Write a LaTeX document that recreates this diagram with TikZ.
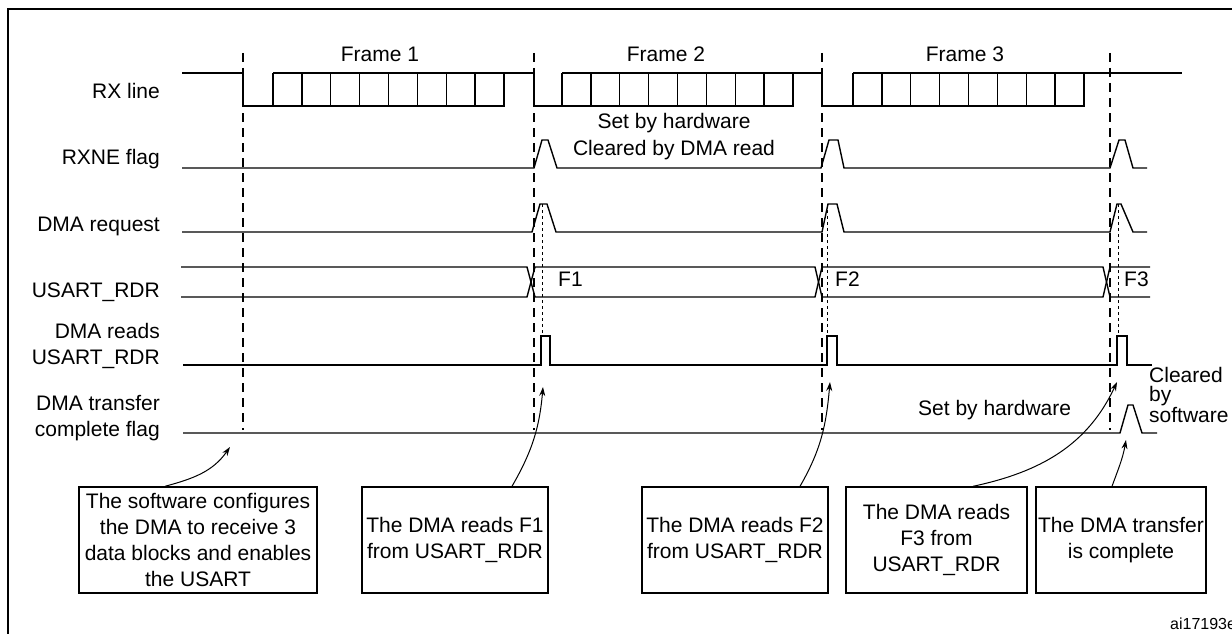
\documentclass[tikz,border=0pt]{standalone}
\usepackage{fontspec}
\setmainfont{Liberation Sans}
\usetikzlibrary{arrows.meta}
\begin{document}
\begin{tikzpicture}[x=1pt,y=-1pt,
  sig/.style={line width=1.4pt, line join=miter},
  thk/.style={line width=2.4pt},
  frm/.style={line width=1.3pt, dash pattern=on 9pt off 6pt},
  fine/.style={line width=1pt, dash pattern=on 3pt off 3pt},
  lbl/.style={font=\fontsize{21}{25.7}\selectfont, inner sep=0pt, align=right, anchor=base east},
  txt/.style={font=\fontsize{21}{25.7}\selectfont, inner sep=0pt},
  box/.style={draw, line width=1.4pt, align=center, inner sep=0pt, minimum height=106pt, font=\fontsize{21}{25.7}\selectfont},
  arr/.style={line width=1pt, -{Stealth[length=9pt,width=6pt]}},
]
\useasboundingbox (0,0) rectangle (1232,634);
% outer frame (cut at right and bottom)
\draw[line width=2pt] (1240,9) -- (8,9) -- (8,640);

% frame titles
\node[txt, anchor=base] (fr1) at (380,62) {Frame 1};
\node[txt, anchor=base] (fr2) at (666,62) {Frame 2};
\node[txt, anchor=base] (fr3) at (965,62) {Frame 3};

% signal labels (base = baseline of last line)
\node[lbl] (lrx) at (160,99) {RX line};
\node[lbl] (lrxne) at (160,164) {RXNE flag};
\node[lbl] (ldreq) at (160,231) {DMA request};
\node[lbl] (lrdr) at (160,297) {USART\_RDR};
\node[lbl] (lrd) at (160,364) {DMA reads\\USART\_RDR};
\node[lbl] (ltc) at (160,436) {DMA transfer\\complete flag};

% frame boundary dashed lines
\foreach \x in {243,534,822,1110} \draw[frm] (\x,53) -- (\x,430);
% fine dotted lines request -> read
\foreach \x in {542,827,1118} \draw[fine] (\x,204) -- (\x,336);

% RX line
\draw[sig] (182,73) -- (243,73) -- (243,106) -- (504,106) -- (504,73) -- (534,73) -- (534,106)
  -- (793,106) -- (793,73) -- (822,73) -- (822,106) -- (1084,106) -- (1084,73) -- (1182,73);
\foreach \s in {273,562,853} {
  \draw[sig] (\s,73) -- (\s+231,73);
  \foreach \k in {0,...,7} \draw[sig] (\s+\k*28.875,73) -- (\s+\k*28.875,106);
}

% RXNE flag
\draw[sig] (182,168) -- (534,168) -- (542,140) -- (548,140) -- (557,168) -- (821,168) -- (829,140)
  -- (838,140) -- (844,168) -- (1110,168) -- (1119,140) -- (1125,140) -- (1133,168) -- (1147,168);
\node[txt, anchor=base, align=center, font=\fontsize{21}{27}\selectfont] (nrxne) at (674,155) {Set by hardware\\Cleared by DMA read};

% DMA request
\draw[sig] (182,232) -- (532,232) -- (540,204) -- (547,204) -- (556,232) -- (822,232) -- (828,204)
  -- (837,204) -- (844,232) -- (1110,232) -- (1117,204) -- (1121,204) -- (1133,232) -- (1147,232);

% USART_RDR bus
\draw[sig] (181,267) -- (527,267) -- (535,297) -- (815,297) -- (822,267) -- (1103,267) -- (1110,297) -- (1150,297);
\draw[sig] (181,297) -- (527,297) -- (535,267) -- (815,267) -- (822,297) -- (1103,297) -- (1110,267) -- (1150,267);
\node[txt, anchor=base west] (f1) at (558,286) {F1};
\node[txt, anchor=base west] (f2) at (835,286) {F2};
\node[txt, anchor=base west] (f3) at (1124,286) {F3};

% DMA reads USART_RDR
\draw[sig] (183,365) -- (541,365) -- (541,336) -- (550,336) -- (550,365) -- (827,365) -- (827,336)
  -- (837,336) -- (837,365) -- (1117,365) -- (1117,336) -- (1127,336) -- (1127,365) -- (1152,365);
\draw[thk] (827,336) -- (837,336);
\draw[thk] (1117,365) -- (1117,336) -- (1127,336);

% DMA transfer complete flag
\draw[sig] (183,433) -- (1120,433) -- (1128,405) -- (1133,405) -- (1142,433) -- (1157,433);
\node[txt, anchor=base west] (nset) at (918,415) {Set by hardware};
\node[txt, anchor=base west, align=left, font=\fontsize{21}{18.5}\selectfont] (nclr) at (1149,422) {Cleared\\by\\software};

% boxes
\node[box, minimum width=238pt] (b1) at (198,540) {The software configures\\the DMA to receive 3\\data blocks and enables\\the USART};
\node[box, minimum width=186pt] (b2) at (455,540) {The DMA reads F1\\from USART\_RDR};
\node[box, minimum width=186pt] (b3) at (735,540) {The DMA reads F2\\from USART\_RDR};
\node[box, minimum width=181pt] (b4) at (936.5,540) {The DMA reads\\F3 from\\USART\_RDR};
\node[box, minimum width=170pt] (b5) at (1121,540) {The DMA transfer\\is complete};

% arrow targets
\coordinate (t1) at (230,447);
\coordinate (t2) at (543,387);
\coordinate (t3) at (830,382);
\coordinate (t4) at (1117,382);
\coordinate (t5) at (1126,440);
\draw[arr] ([xshift=-33pt]b1.north) to[out=15,in=-125] (t1);
\draw[arr] ([xshift=57pt]b2.north) to[out=60,in=-95] (t2);
\draw[arr] ([xshift=65pt]b3.north) to[out=60,in=-95] (t3);
\draw[arr] ([xshift=36.5pt]b4.north) to[out=12,in=-115] (t4);
\draw[arr] ([xshift=-9pt]b5.north) to[out=70,in=-100] (t5);

\node[anchor=base west, inner sep=0pt, font=\fontsize{16}{18}\selectfont] (code) at (1170,629) {ai17193e};
\end{tikzpicture}
\end{document}
